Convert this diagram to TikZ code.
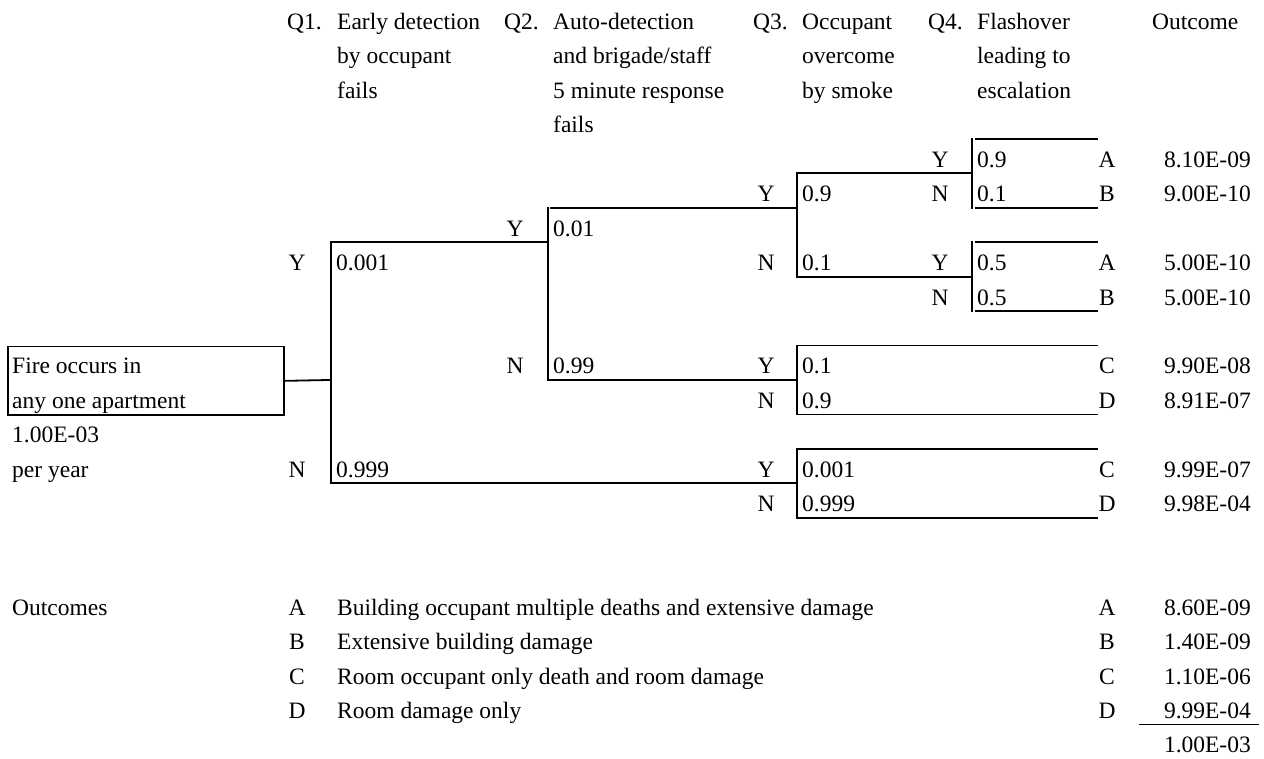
\documentclass[tikz,border=0pt]{standalone}
\usepackage{fontspec}
\setmainfont{Liberation Serif}
\newcommand\tf{\fontsize{23.5}{28}\selectfont}
\tikzset{
  txt/.style={anchor=base west, inner sep=0pt, font=\tf},
  ctr/.style={anchor=base, inner sep=0pt, font=\tf},
  rgt/.style={anchor=base east, inner sep=0pt, font=\tf},
  ln/.style={line width=1.8pt, line cap=rect},
}
\begin{document}
\begin{tikzpicture}[x=1pt, y=-1pt]
\useasboundingbox (0,0) rectangle (1264,758);
% ---------- headers ----------
\node[txt] (q1) at (287,29.45) {Q1.};
\node[txt] (q1a) at (337,29.45) {Early detection};
\node[txt] (q1b) at (337,63.9) {by occupant};
\node[txt] (q1c) at (337,98.35) {fails};
\node[txt] (q2) at (504,29.45) {Q2.};
\node[txt] (q2a) at (553,29.45) {Auto-detection};
\node[txt] (q2b) at (553,63.9) {and brigade/staff};
\node[txt] (q2c) at (553,98.35) {5 minute response};
\node[txt] (q2d) at (553,132.8) {fails};
\node[txt] (q3) at (753,29.45) {Q3.};
\node[txt] (q3a) at (802,29.45) {Occupant};
\node[txt] (q3b) at (802,63.9) {overcome};
\node[txt] (q3c) at (802,98.35) {by smoke};
\node[txt] (q4) at (928,29.45) {Q4.};
\node[txt] (q4a) at (977,29.45) {Flashover};
\node[txt] (q4b) at (977,63.9) {leading to};
\node[txt] (q4c) at (977,98.35) {escalation};
\node[txt] (oc) at (1152,29.45) {Outcome};
% ---------- initiating event ----------
\node[draw, line width=1.8pt, minimum width=276pt, minimum height=68.9pt, anchor=north west, inner sep=0pt] (fire) at (7,345.5) {};
\node[txt] (f1) at (12,373.95) {Fire occurs in};
\node[txt] (f2) at (12,408.4) {any one apartment};
\node[txt] (f3) at (12,442.85) {1.00E-03};
\node[txt] (f4) at (12,477.3) {per year};
% ---------- junction coordinates ----------
\coordinate (j1) at (331,379.95);
\coordinate (j1t) at (331,242.15);
\coordinate (j1b) at (331,483.3);
\coordinate (j2t) at (548,242.15);
\coordinate (j2a) at (548,207.7);
\coordinate (j2y) at (551,207.7);
\coordinate (j2b) at (548,379.95);
\coordinate (k1m) at (797,207.7);
\coordinate (k1t) at (797,173.25);
\coordinate (k1b) at (797,276.6);
\coordinate (k2m) at (797,379.95);
\coordinate (k2t) at (797,345.5);
\coordinate (k2b) at (797,414.4);
\coordinate (k3m) at (797,483.3);
\coordinate (k3t) at (797,448.85);
\coordinate (k3b) at (797,517.75);
\coordinate (m1m) at (972,173.25);
\coordinate (m1t) at (972,138.8);
\coordinate (m1b) at (972,207.7);
\coordinate (m2m) at (972,276.6);
\coordinate (m2t) at (972,242.15);
\coordinate (m2b) at (972,311.05);
\coordinate (e1) at (1097,138.8);
\coordinate (e2) at (1097,207.7);
\coordinate (e3) at (1097,242.15);
\coordinate (e4) at (1097,311.05);
\coordinate (e5) at (1097,345.5);
\coordinate (e6) at (1097,414.4);
\coordinate (e7) at (1097,448.85);
\coordinate (e8) at (1097,517.75);
\coordinate (s1) at (976,138.8);
\coordinate (s2) at (976,207.7);
\coordinate (s3) at (976,242.15);
\coordinate (s4) at (976,311.05);
% ---------- tree lines ----------
\draw[ln] (fire.east) -- (j1);
\draw[ln] (j2t) -- (j1t) -- (j1b) -- (k3m);
\draw[ln] (j2y) -- (k1m);
\draw[ln] (j2a) -- (j2b) -- (k2m);
\draw[ln] (m1m) -- (k1t) -- (k1b) -- (m2m);
\draw[ln] (m1t) -- (m1b);
\draw[ln] (m2t) -- (m2b);
\draw[ln] (s1) -- (e1);
\draw[ln] (s2) -- (e2);
\draw[ln] (s3) -- (e3);
\draw[ln] (s4) -- (e4);
\draw[ln] (e5) -- (k2t) -- (k2b) -- (e6);
\draw[ln] (e7) -- (k3t) -- (k3b) -- (e8);
% ---------- Q1 ----------
\node[ctr] (y1) at (297,270.6) {Y};
\node[txt] (p1y) at (336,270.6) {0.001};
\node[ctr] (n1) at (297,477.3) {N};
\node[txt] (p1n) at (336,477.3) {0.999};
% ---------- Q2 ----------
\node[ctr] (y2) at (515,236.15) {Y};
\node[txt] (p2y) at (553,236.15) {0.01};
\node[ctr] (n2) at (515,373.95) {N};
\node[txt] (p2n) at (553,373.95) {0.99};
% ---------- Q3 ----------
\node[ctr] (y3a) at (766,201.7) {Y};
\node[txt] (p3a) at (802,201.7) {0.9};
\node[ctr] (n3a) at (766,270.6) {N};
\node[txt] (p3b) at (802,270.6) {0.1};
\node[ctr] (y3b) at (766,373.95) {Y};
\node[txt] (p3c) at (802,373.95) {0.1};
\node[ctr] (n3b) at (766,408.4) {N};
\node[txt] (p3d) at (802,408.4) {0.9};
\node[ctr] (y3c) at (766,477.3) {Y};
\node[txt] (p3e) at (802,477.3) {0.001};
\node[ctr] (n3c) at (766,511.75) {N};
\node[txt] (p3f) at (802,511.75) {0.999};
% ---------- Q4 ----------
\node[ctr] (y4a) at (940,167.25) {Y};
\node[txt] (p4a) at (977,167.25) {0.9};
\node[ctr] (n4a) at (940,201.7) {N};
\node[txt] (p4b) at (977,201.7) {0.1};
\node[ctr] (y4b) at (940,270.6) {Y};
\node[txt] (p4c) at (977,270.6) {0.5};
\node[ctr] (n4b) at (940,305.05) {N};
\node[txt] (p4d) at (977,305.05) {0.5};
% ---------- outcomes ----------
\node[ctr] (o1) at (1107,167.25) {A};
\node[rgt] (v1) at (1251,167.25) {8.10E-09};
\node[ctr] (o2) at (1107,201.7) {B};
\node[rgt] (v2) at (1251,201.7) {9.00E-10};
\node[ctr] (o3) at (1107,270.6) {A};
\node[rgt] (v3) at (1251,270.6) {5.00E-10};
\node[ctr] (o4) at (1107,305.05) {B};
\node[rgt] (v4) at (1251,305.05) {5.00E-10};
\node[ctr] (o5) at (1107,373.95) {C};
\node[rgt] (v5) at (1251,373.95) {9.90E-08};
\node[ctr] (o6) at (1107,408.4) {D};
\node[rgt] (v6) at (1251,408.4) {8.91E-07};
\node[ctr] (o7) at (1107,477.3) {C};
\node[rgt] (v7) at (1251,477.3) {9.99E-07};
\node[ctr] (o8) at (1107,511.75) {D};
\node[rgt] (v8) at (1251,511.75) {9.98E-04};
% ---------- legend ----------
\node[txt] (lg) at (12,615.1) {Outcomes};
\node[ctr] (la) at (297,615.1) {A};
\node[txt] (lad) at (337,615.1) {Building occupant multiple deaths and extensive damage};
\node[ctr] (lb) at (297,649.55) {B};
\node[txt] (lbd) at (337,649.55) {Extensive building damage};
\node[ctr] (lc) at (297,684) {C};
\node[txt] (lcd) at (337,684) {Room occupant only death and room damage};
\node[ctr] (ld) at (297,718.45) {D};
\node[txt] (ldd) at (337,718.45) {Room damage only};
\node[ctr] (ra) at (1107,615.1) {A};
\node[rgt] (rva) at (1251,615.1) {8.60E-09};
\node[ctr] (rb) at (1107,649.55) {B};
\node[rgt] (rvb) at (1251,649.55) {1.40E-09};
\node[ctr] (rc) at (1107,684) {C};
\node[rgt] (rvc) at (1251,684) {1.10E-06};
\node[ctr] (rd) at (1107,718.45) {D};
\node[rgt] (rvd) at (1251,718.45) {9.99E-04};
\coordinate (sl) at (1140,724.45);
\coordinate (sr) at (1258,724.45);
\draw[ln] (sl) -- (sr);
\node[rgt] (tot) at (1251,752.9) {1.00E-03};
\end{tikzpicture}
\end{document}
